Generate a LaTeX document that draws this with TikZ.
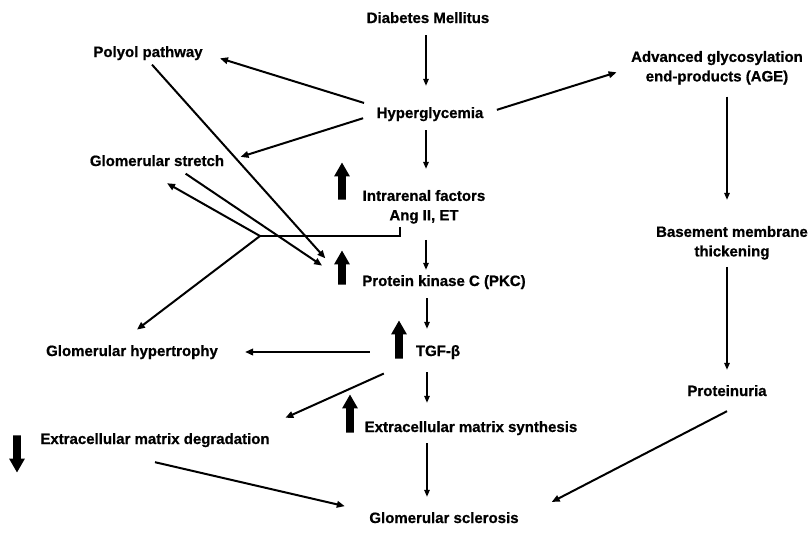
\documentclass[tikz,border=0pt]{standalone}
\usepackage{fontspec}
\setmainfont{Liberation Sans}
\newfontfamily\heavyfont{Liberation Sans Bold}[FakeBold=0.8]
\usetikzlibrary{arrows.meta,shapes.arrows}
\tikzset{
 lbl/.style={font=\fontsize{15}{19.5}\selectfont\heavyfont, inner sep=0pt, text height=11pt, text depth=3pt},
 lbltwo/.style={font=\fontsize{15}{19.5}\selectfont\heavyfont, inner sep=0pt, align=center},
 conn/.style={line width=2pt, -{Triangle[length=8pt,width=6.5pt]}},
 vconn/.style={line width=1.5pt, -{Triangle[length=7pt,width=5.5pt]}},
 bigarrow/.style={single arrow, fill=black, draw=none, inner sep=3.7pt, minimum height=37pt,
   single arrow head extend=4pt, single arrow tip angle=60, outer sep=0pt},
}
\begin{document}
\begin{tikzpicture}[x=1pt,y=-1pt]
\useasboundingbox (0,0) rectangle (812,533);
% nodes
\node[lbl] (dm) at (428,19) {Diabetes Mellitus};
\node[lbl] (hyper) at (430,114) {Hyperglycemia};
\node[lbl] (polyol) at (148,53) {Polyol pathway};
\node[lbltwo] (age) at (717,67.8) {Advanced glycosylation\\end-products (AGE)};
\node[lbl] (stretch) at (157,162) {Glomerular stretch};
\node[lbltwo] (intra) at (424,206.8) {Intrarenal factors\\Ang II, ET};
\node[lbltwo] (basement) at (732,242.8) {Basement membrane\\thickening};
\node[lbl] (pkc) at (444,282) {Protein kinase C (PKC)};
\node[lbl] (tgf) at (438,352) {TGF-β};
\node[lbl] (hypertrophy) at (132,352) {Glomerular hypertrophy};
\node[lbl] (prot) at (727,392) {Proteinuria};
\node[lbl] (ecms) at (471,428) {Extracellular matrix synthesis};
\node[lbl] (ecmd) at (155,440) {Extracellular matrix degradation};
\node[lbl] (scl) at (444,519) {Glomerular sclerosis};
% big up/down arrows
\node[bigarrow, rotate=90] (up1) at (342,184.5) {};
\node[bigarrow, rotate=90, minimum height=34pt] (up2) at (342,271) {};
\node[bigarrow, rotate=90, minimum height=38pt] (up3) at (399,343) {};
\node[bigarrow, rotate=90, minimum height=38pt] (up4) at (350,417) {};
\node[bigarrow, rotate=-90] (down1) at (17,450.5) {};
\coordinate (jn) at (260,236);
% central column
\draw[vconn, shorten <=9pt, shorten >=21pt] ([xshift=-2pt]dm.south) -- ([xshift=-4pt]hyper.north);
\draw[vconn, shorten <=9pt, shorten >=21pt] ([xshift=-4pt]hyper.south) -- ([xshift=2pt]intra.north);
\draw[vconn, shorten <=16pt, shorten >=5pt] ([xshift=2pt]intra.south) -- ([xshift=-18pt]pkc.north);
\draw[vconn, shorten <=9pt, shorten >=16pt] ([xshift=-17pt]pkc.south) -- ([xshift=-11pt]tgf.north);
\draw[vconn, shorten <=13pt, shorten >=18pt] ([xshift=-11pt]tgf.south) -- ([xshift=-44pt]ecms.north);
\draw[vconn, shorten <=8pt, shorten >=15pt] ([xshift=-44pt]ecms.south) -- ([xshift=-17pt]scl.north);
% right column
\draw[vconn, shorten <=12pt, shorten >=26pt] ([xshift=10pt]age.south) -- ([xshift=-5pt]basement.north);
\draw[vconn, shorten <=7pt, shorten >=15pt] ([xshift=-5pt]basement.south) -- (prot.north);
% from hyperglycemia
\draw[conn, shorten <=13pt, shorten >=18pt] (hyper.north west) -- (polyol.east);
\draw[conn, shorten <=14pt, shorten >=17pt] (hyper.west) -- (stretch.east);
\draw[conn, shorten <=14pt, shorten >=15pt] (hyper.east) -- (age.west);
% to PKC
\draw[conn, shorten <=6pt, shorten >=25pt] (polyol.south) -- ([yshift=-6pt]up2.center);
\draw[conn, shorten <=8pt, shorten >=24pt] ([xshift=22pt]stretch.south) -- ([yshift=-8pt]up2.center);
% intrarenal bracket
\draw[line width=1.8pt, shorten <=3pt] ([xshift=-24pt]intra.south) |- (jn);
\draw[conn] (jn) -- ([xshift=10pt,yshift=-14pt]stretch.south);
\draw[conn, shorten >=25pt] (jn) -- ([xshift=-15pt]hypertrophy.north);
% from TGF
\draw[conn, shorten <=46pt, shorten >=27pt] (tgf.west) -- (hypertrophy.east);
\draw[conn, shorten <=35pt, shorten >=17pt] (tgf.south west) -- ([yshift=8pt]ecmd.north east);
% to sclerosis
\draw[conn, shorten >=25pt] ([yshift=-15pt]ecmd.south) -- (scl.north west);
\draw[conn, shorten >=37pt] ([yshift=-12pt]prot.south) -- (scl.east);
\end{tikzpicture}
\end{document}
